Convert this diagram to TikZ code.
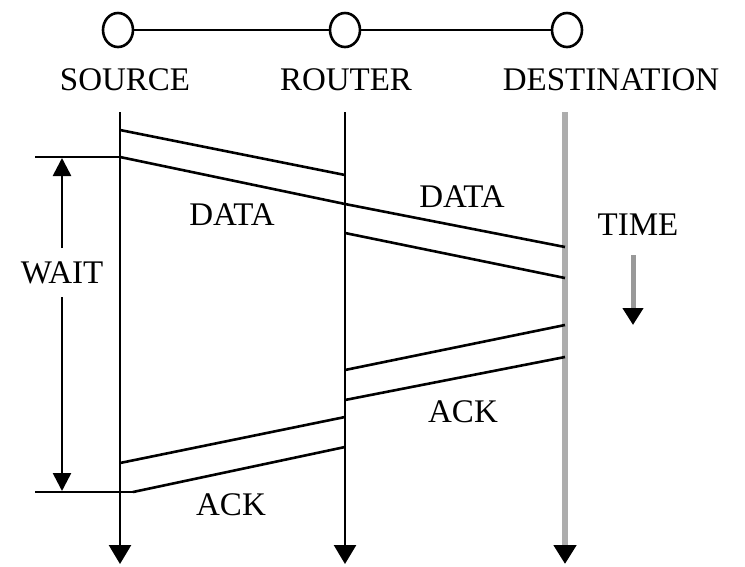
\documentclass[tikz,border=0pt]{standalone}
\usepackage{fontspec}
\setmainfont{Liberation Serif}
\usetikzlibrary{arrows.meta,shapes.geometric}
\begin{document}
\begin{tikzpicture}[x=1pt,y=-1pt,
  line width=2.6pt,
  host/.style={draw, ellipse, line width=2.6pt, minimum width=30pt, minimum height=34pt, inner sep=0pt},
  lbl/.style={font=\fontsize{33}{36}\selectfont, inner sep=0pt},
  lane/.style={draw, line width=2.6pt, -{Triangle[width=22pt,length=19pt]}},
  graylane/.style={draw, line width=6pt, color=black!32, -{Triangle[width=22pt,length=19pt,color=black]}},
  pkt/.style={draw, line width=2.6pt},
  dim/.style={draw, line width=2.6pt, -{Triangle[width=18pt,length=18pt]}}
]
\useasboundingbox (0,0) rectangle (745,566);

% hosts along the path
\node[host] (src) at (118,30) {};
\node[host] (rtr) at (345,30) {};
\node[host] (dst) at (567,30) {};
\draw (src) -- (rtr) -- (dst);

\node[lbl] (srcl) at (125,80) {SOURCE};
\node[lbl] (rtrl) at (346,80) {ROUTER};
\node[lbl] (dstl) at (611,80) {DESTINATION};

% time lines
\coordinate (sTop) at (120,112);
\coordinate (sBot) at (120,564);
\coordinate (rTop) at (345,112);
\coordinate (rBot) at (345,564);
\coordinate (dTop) at (565,112);
\coordinate (dBot) at (565,564);
\draw[lane] (sTop) -- (sBot);
\draw[lane] (rTop) -- (rBot);
\draw[graylane] (dTop) -- (dBot);

% data packet: source -> router -> destination
\coordinate (d1) at (120,130);
\coordinate (d2) at (120,157);
\coordinate (d3) at (345,175);
\coordinate (d4) at (345,204);
\coordinate (d5) at (345,233);
\coordinate (d6) at (565,247);
\coordinate (d7) at (565,278);
\draw[pkt] (d1) -- (d3);
\draw[pkt] (d2) -- (d4) -- (d6);
\draw[pkt] (d5) -- (d7);

% acknowledgement: destination -> router -> source
\coordinate (a1) at (565,325);
\coordinate (a2) at (565,357);
\coordinate (a3) at (345,370);
\coordinate (a4) at (345,400);
\coordinate (a5) at (345,417);
\coordinate (a6) at (345,447);
\coordinate (a7) at (120,463);
\coordinate (a8) at (133,492);
\draw[pkt] (a1) -- (a3);
\draw[pkt] (a2) -- (a4);
\draw[pkt] (a5) -- (a7);
\draw[pkt] (a6) -- (a8);

% waiting interval at the source
\coordinate (w1) at (35,157);
\coordinate (w2) at (35,492);
\draw[pkt] (w1) -- (d2);
\draw[pkt] (w2) -- (a8);
\node[lbl] (wait) at (62,273) {WAIT};
\coordinate (wa) at (62,248);
\coordinate (wb) at (62,158);
\coordinate (wc) at (62,297);
\coordinate (wd) at (62,491);
\draw[dim] (wa) -- (wb);
\draw[dim] (wc) -- (wd);

% labels on the messages
\node[lbl] (data1) at (232,215) {DATA};
\node[lbl] (data2) at (462,197) {DATA};
\node[lbl] (ack1) at (231,505) {ACK};
\node[lbl] (ack2) at (463,412) {ACK};

% time direction
\node[lbl] (time) at (638,225) {TIME};
\coordinate (t1) at (633,255);
\coordinate (t2) at (633,325);
\draw[line width=5pt, color=black!40, -{Triangle[width=20pt,length=17pt,color=black]}] (t1) -- (t2);
\end{tikzpicture}
\end{document}
